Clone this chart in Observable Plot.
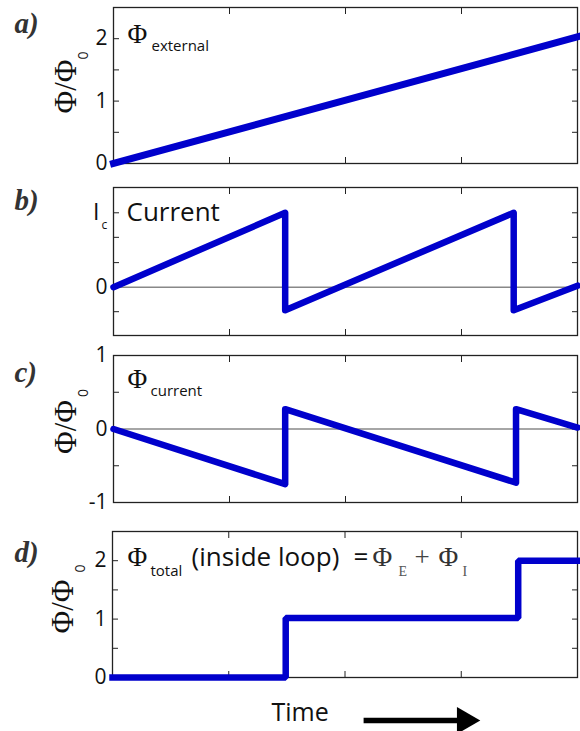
<!DOCTYPE html>
<html>
<head>
<meta charset="utf-8">
<script src="https://cdn.jsdelivr.net/npm/d3@7"></script>
<script src="https://cdn.jsdelivr.net/npm/@observablehq/plot@0.6"></script>
<style>
  html, body { margin: 0; padding: 0; background: #fff; }
  #chart { width: 580px; height: 731px; overflow: hidden; }
  #chart svg { display: block; }
</style>
</head>
<body>
<div id="chart"></div>
<script>
// ---------- data ----------
const xDomain = [0, 4];
const xTicks = [1, 2, 3];

// a) external flux
const timeA = [0, 4];
const fluxExternal = [0, 2.03];
const yTickLabelsA = [0, 1, 2];
const yMinorA = [0.5, 1, 1.5, 2];

// b) current
const timeB = [0, 1.48, 1.48, 3.45, 3.45, 4];
const currentB = [0, 1, -0.31, 1, -0.31, 0.02];
const yTickLabelsB = [0];
const yMinorB = [-0.33, 0, 0.33, 0.67, 1];

// c) flux from current
const timeC = [0, 1.48, 1.48, 3.47, 3.47, 4];
const fluxCurrent = [0, -0.75, 0.27, -0.73, 0.27, 0.02];
const yTickLabelsC = [-1, 0, 1];
const yMinorC = [-0.5, 0, 0.5];

// d) total flux
const timeD = [0, 1.49, 1.49, 3.49, 3.49, 4];
const fluxTotal = [0, 0, 1.02, 1.02, 2.0, 2.0];
const yTickLabelsD = [0, 1, 2];
const yMinorD = [0.5, 1, 1.5, 2];

// arrow along the time direction
const arrowShaft = [{t0: 2.16, t1: 2.98, v: 0}];
const arrowHead = [{t: 3.03, v: 0}];

// texts
const panelLetters = ["a)", "b)", "c)", "d)"];
const axisLabel = "Φ/Φ";
const axisLabelSub = "0";
const phi = "Φ";

// ---------- styling ----------
const SANS = "'Open Sans', 'Noto Sans', 'DejaVu Sans', sans-serif";
const SERIF = "'Liberation Serif', 'DejaVu Serif', serif";
const BLUE = "#0000cc";
const ML = 113;

function toRows(ts, vs) { return ts.map((t, i) => ({t, v: vs[i]})); }

function note(str, px, base, top, opts = {}) {
  const {font = SANS, size = 15, fill = "#111", ml = ML, ...rest} = opts;
  return Plot.text([str], {
    text: d => d, frameAnchor: "top-left",
    dx: px - ml, dy: base - top,
    textAnchor: "start", lineAnchor: "bottom",
    fontFamily: font, fontSize: size, fill, ...rest
  });
}

function frameMarks(yMinor, yLabels, fmt) {
  return [
    Plot.axisX(xTicks, {anchor: "bottom", tickSize: 6, dy: -6, fill: "none", label: null, stroke: "#222"}),
    Plot.axisX(xTicks, {anchor: "top", tickSize: 6, dy: 6, fill: "none", label: null, stroke: "#222"}),
    Plot.axisY(yMinor, {anchor: "left", tickSize: 6, dx: 6, fill: "none", label: null, stroke: "#222"}),
    Plot.axisY(yMinor, {anchor: "right", tickSize: 6, dx: -6, fill: "none", label: null, stroke: "#222"}),
    Plot.axisY(yLabels, {anchor: "left", tickSize: 0, tickPadding: 6, fontSize: 21, fontFamily: SANS, fill: "#111",
      tickFormat: fmt || (d => String(d)), label: null}),
    Plot.frame({stroke: "#222", strokeWidth: 1.3})
  ];
}

function yAxisLabel(dxMain, dyMain, dySub) {
  return [
    Plot.text([axisLabel], {text: d => d, frameAnchor: "left", rotate: -90, dx: dxMain, dy: dyMain,
      textAnchor: "middle", lineAnchor: "bottom", fontFamily: SERIF, fontSize: 31, fill: "#111"}),
    Plot.text([axisLabelSub], {text: d => d, frameAnchor: "left", rotate: -90, dx: dxMain + 12, dy: dySub,
      textAnchor: "middle", lineAnchor: "bottom", fontFamily: SANS, fontSize: 14, fill: "#111"})
  ];
}

function letter(str, base, top, ml = ML) {
  return note(str, 14, base, top, {font: SERIF, size: 29, fill: "#333", fontWeight: "bold", fontStyle: "italic", ml});
}

function panel({height, mt, mb, ml = ML, y, marks}) {
  return Plot.plot({
    width: 580, height,
    marginTop: mt, marginBottom: mb, marginLeft: ml, marginRight: 3,
    x: {domain: xDomain, axis: null},
    y: {domain: y, axis: null},
    style: {fontFamily: SANS, background: "#fff", overflow: "visible"},
    marks
  });
}

const chart = document.getElementById("chart");

// ---- a ----
const topA = 7;
chart.append(panel({
  height: 175, mt: 7, mb: 12, y: [0, 2.5],
  marks: [
    ...frameMarks(yMinorA, yTickLabelsA),
    ...yAxisLabel(-38, 1, -30),
    letter(panelLetters[0], 32, topA),
    note(phi, 127, 42, topA, {font: SERIF, size: 27}),
    note("external", 151, 50, topA, {size: 15}),
    Plot.line(toRows(timeA, fluxExternal), {x: "t", y: "v", stroke: BLUE, strokeWidth: 7, strokeLinecap: "square"})
  ]
}));

// ---- b ----
chart.append(panel({
  height: 170, mt: 12, mb: 10, y: [-0.65, 1.34],
  marks: [
    Plot.ruleY([0], {stroke: "#888", strokeWidth: 1.5}),
    ...frameMarks(yMinorB, yTickLabelsB),
    Plot.text([1], {y: d => d, text: () => "I", frameAnchor: "left", dx: -14, textAnchor: "end",
      lineAnchor: "middle", fontFamily: SANS, fontSize: 23, fill: "#111"}),
    Plot.text([1], {y: d => d, text: () => "c", frameAnchor: "left", dx: -12, dy: 12, textAnchor: "start",
      lineAnchor: "middle", fontFamily: SANS, fontSize: 12, fill: "#111"}),
    letter(panelLetters[1], 209, 187),
    note("Current", 126, 220, 187, {size: 26}),
    Plot.line(toRows(timeB, currentB), {x: "t", y: "v", stroke: BLUE, strokeWidth: 6.5,
      strokeLinecap: "round", strokeLinejoin: "round"})
  ]
}));

// ---- c ----
chart.append(panel({
  height: 170, mt: 10, mb: 13, y: [-1, 1],
  marks: [
    Plot.ruleY([0], {stroke: "#888", strokeWidth: 1.5}),
    ...frameMarks(yMinorC, yTickLabelsC),
    ...yAxisLabel(-38, -2, -36),
    letter(panelLetters[2], 381, 355),
    note(phi, 127, 387, 355, {font: SERIF, size: 27}),
    note("current", 150, 395, 355, {size: 15}),
    Plot.line(toRows(timeC, fluxCurrent), {x: "t", y: "v", stroke: BLUE, strokeWidth: 6.5,
      strokeLinecap: "round", strokeLinejoin: "round"})
  ]
}));

// ---- d ----
const ML_D = 112;
chart.append(panel({
  height: 216, mt: 16, mb: 54, ml: ML_D, y: [0, 2.5],
  marks: [
    ...frameMarks(yMinorD, yTickLabelsD),
    ...yAxisLabel(-40, 2, -36),
    letter(panelLetters[3], 561, 531, ML_D),
    note(phi, 127, 565, 531, {font: SERIF, size: 27, ml: ML_D}),
    note("total", 150, 575, 531, {size: 15, ml: ML_D}),
    note("(inside loop)", 191, 565, 531, {size: 26, ml: ML_D}),
    note("=", 353, 565, 531, {size: 26, ml: ML_D}),
    note(phi, 372, 565, 531, {font: SERIF, size: 27, ml: ML_D, fill: "#333"}),
    note("E", 398, 575, 531, {font: SERIF, size: 14, ml: ML_D, fill: "#555"}),
    note("+", 414, 565, 531, {font: SERIF, size: 27, ml: ML_D, fill: "#444"}),
    note(phi, 438, 565, 531, {font: SERIF, size: 27, ml: ML_D, fill: "#333"}),
    note("I", 462, 575, 531, {font: SERIF, size: 14, ml: ML_D, fill: "#555"}),
    Plot.text(["Time"], {text: d => d, frameAnchor: "bottom-left", dx: 271 - ML_D, dy: 43,
      textAnchor: "start", lineAnchor: "bottom", fontFamily: SANS, fontSize: 25, fill: "#111"}),
    Plot.link(arrowShaft, {x1: "t0", x2: "t1", y1: "v", y2: "v", dy: 43, stroke: "#000", strokeWidth: 5.5}),
    Plot.dot(arrowHead, {x: "t", y: "v", dy: 43, symbol: "triangle", r: 10, rotate: 90, fill: "#000", stroke: "none"}),
    Plot.line(toRows(timeD, fluxTotal), {x: "t", y: "v", stroke: BLUE, strokeWidth: 6.5,
      strokeLinecap: "square", strokeLinejoin: "miter"})
  ]
}));
</script>
</body>
</html>
